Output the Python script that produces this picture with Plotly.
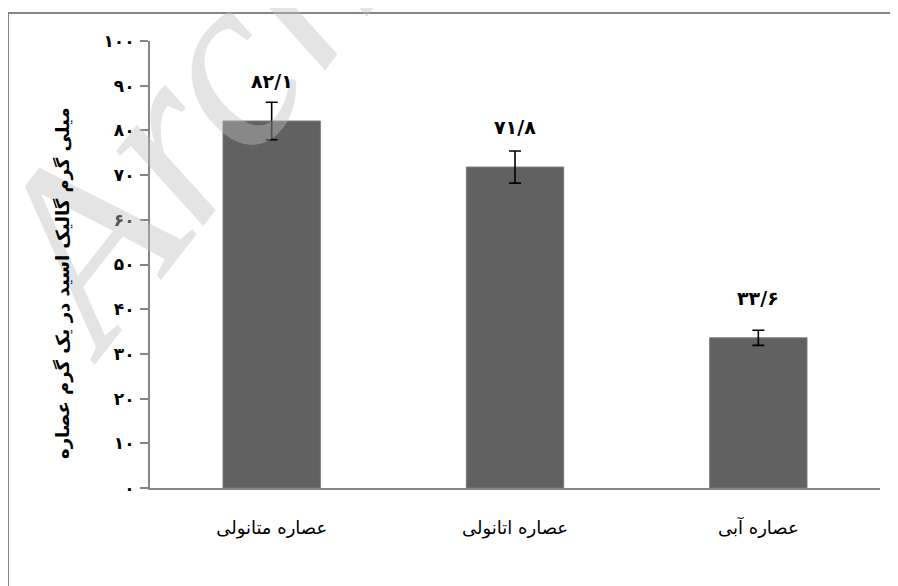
import plotly.graph_objects as go

categories = ["عصاره متانولی", "عصاره اتانولی", "عصاره آبی"]
values = [82.1, 71.8, 33.6]
errors = [4.2, 3.6, 1.7]
value_labels = ["۸۲/۱", "۷۱/۸", "۳۳/۶"]
tick_vals = [0, 10, 20, 30, 40, 50, 60, 70, 80, 90, 100]
tick_text = ["۰", "۱۰", "۲۰", "۳۰", "۴۰", "۵۰", "۶۰", "۷۰", "۸۰", "۹۰", "۱۰۰"]
y_title = "میلی گرم گالیک اسید در یک گرم عصاره"
watermark = "Archive of SID"

# page has an 8px body margin; figure sized so it fills the 898x586 window
OFF = 8
W, H = 898 - OFF, 586 - OFF
PLOT_L, PLOT_R, PLOT_T, PLOT_B = 150, 880, 41, 488  # page pixels
L = PLOT_L - OFF
T = PLOT_T - OFF
R = W - (PLOT_R - OFF)
B = H - (PLOT_B - OFF)
pw, ph = PLOT_R - PLOT_L, PLOT_B - PLOT_T

def px_x(x):
    return (x - PLOT_L) / pw

def px_y(y):
    return (PLOT_B - y) / ph

fig = go.Figure()
fig.add_trace(go.Bar(
    x=categories, y=values,
    marker=dict(color="#616161", line=dict(color="#7a7a7a", width=1)),
    width=0.4,
    error_y=dict(type="data", array=errors, color="black", thickness=1.6, width=6),
    showlegend=False,
))

axis_gray = "#868686"
fig.update_layout(
    width=W, height=H,
    margin=dict(l=L, r=R, t=T, b=B),
    paper_bgcolor="white", plot_bgcolor="white",
    font=dict(family="DejaVu Sans", color="black"),
    xaxis=dict(
        range=[-0.5, 2.5], showline=True, linecolor=axis_gray, linewidth=2,
        ticks="", showgrid=False, tickfont=dict(size=18, family="DejaVu Sans"),
        ticklabelstandoff=22,
    ),
    yaxis=dict(
        range=[0, 100], tickvals=tick_vals, ticktext=tick_text,
        showline=True, linecolor=axis_gray, linewidth=2,
        ticks="outside", ticklen=8, tickcolor=axis_gray, tickwidth=1.5,
        showgrid=False, zeroline=False,
        tickfont=dict(size=17, family="DejaVu Sans", weight="bold"),
        ticklabelstandoff=2,
    ),
)

annotations = []
annotations.append(dict(
    text=watermark, xref="paper", yref="paper",
    x=px_x(486), y=px_y(-274), textangle=-52, showarrow=False,
    font=dict(family="Liberation Serif", size=250, color="rgba(190,190,190,0.42)", style="italic"),
    xanchor="center", yanchor="middle",
))
for c, v, t in zip(categories, values, value_labels):
    annotations.append(dict(
        x=c, y=v, xref="x", yref="y", text=t, showarrow=False,
        yshift=40, yanchor="middle",
        font=dict(size=19, family="DejaVu Sans", weight="bold", color="black"),
    ))
annotations.append(dict(
    text=y_title, xref="paper", yref="paper", x=px_x(63), y=px_y(283),
    textangle=-90, showarrow=False, xanchor="center", yanchor="middle",
    font=dict(size=18, family="DejaVu Sans", weight="bold", color="black"),
))
fig.update_layout(annotations=annotations)

fig.add_shape(
    type="rect", xref="paper", yref="paper",
    x0=px_x(8), x1=px_x(920), y0=px_y(620), y1=px_y(13),
    line=dict(color=axis_gray, width=2), fillcolor="rgba(0,0,0,0)", layer="below",
)

fig.write_html("out.html")
